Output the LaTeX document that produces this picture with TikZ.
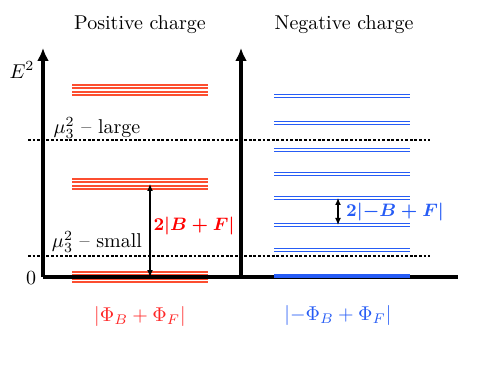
\documentclass[tikz,border=0pt]{standalone}
\usepackage{amsmath}
\usepackage{amssymb}
\usetikzlibrary{arrows.meta}
\definecolor{posred}{RGB}{252,78,48}
\definecolor{negblue}{RGB}{38,92,245}

\begin{document}
\begin{tikzpicture}[x=0.5pt, y=-0.5pt,
  axisline/.style={line width=1.6pt},
  axisarrow/.style={axisline, -{Latex[length=6.5pt,width=6pt]}},
  gaparrow/.style={semithick, {Latex[length=3.5pt,width=3pt]}-{Latex[length=3.5pt,width=3pt]}},
  threshold/.style={dash pattern=on 1.4pt off 0.9pt, line width=0.8pt},
  posline/.style={posred, line width=0.95pt},
  negline/.style={negblue, line width=0.75pt}]
\useasboundingbox (0,0) rectangle (491,368);
%\draw[help lines, step=10] (0,0) grid (491,368);

% Levels, positive charge
\foreach \c in {90,184,277}{
  \foreach \d in {-5.25,-1.75,1.75,5.25}
    \draw[posline] (72,\c+\d) -- (208,\c+\d);
}

% Levels, negative charge
\foreach \c in {96,123,150,174,198,225,250}{
  \draw[negline] (274,\c-1.3) -- (410,\c-1.3);
  \draw[negline] (274,\c+1.3) -- (410,\c+1.3);
}

% Axes
\coordinate (o) at (43,277);
\coordinate (oTop) at (43,48);
\coordinate (m) at (241,277);
\coordinate (mTop) at (241,48);
\coordinate (xEnd) at (458,277);
\draw[axisline] (o) -- (xEnd);
\draw[axisarrow] (o) -- (oTop);
\draw[axisarrow] (m) -- (mTop);
\draw[negline] (274,275) -- (410,275);
\draw[negline] (274,276.8) -- (410,276.8);

\node (eLabel) at (22,70) {$E^2$};
\node (zero) at (31,278) {$0$};

% Thresholds
\coordinate (lgA) at (28,140);
\coordinate (lgB) at (430,140);
\coordinate (smA) at (28,256);
\coordinate (smB) at (430,256);
\draw[threshold] (lgA) -- (lgB);
\draw[threshold] (smA) -- (smB);
\node (muLarge) at (97,128) {$\mu_3^2$ -- large};
\node (muSmall) at (97,242) {$\mu_3^2$ -- small};

% Titles
\node (posTitle) at (140,25) {Positive charge};
\node (negTitle) at (344,25) {Negative charge};

% Gaps
\coordinate (rUp) at (150,184);
\coordinate (rDown) at (150,277);
\draw[gaparrow] (rUp) -- (rDown);
\node[text=red, font=\small] (gapPos) at (194,226) {$\boldsymbol{2\lvert B+F\rvert}$};

\coordinate (bUp) at (338,198);
\coordinate (bDown) at (338,225);
\draw[gaparrow] (bUp) -- (bDown);
\node[text=negblue, font=\small] (gapNeg) at (395,212) {$\boldsymbol{2\lvert -B+F\rvert}$};

% Ground states
\node[text=red!85] (basePos) at (140,316) {$\lvert\Phi_B+\Phi_F\rvert$};
\node[text=negblue] (baseNeg) at (338,315) {$\lvert-\Phi_B+\Phi_F\rvert$};

\end{tikzpicture}
\end{document}
